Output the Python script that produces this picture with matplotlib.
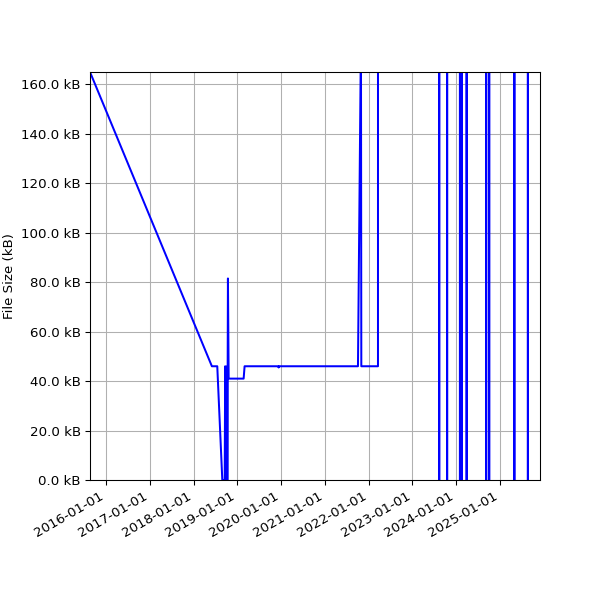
import matplotlib
matplotlib.use("Agg")
import matplotlib.pyplot as plt
import matplotlib.dates as mdates
from matplotlib.ticker import FuncFormatter
from datetime import datetime

# commit dates and file sizes (kB)
dates = [
    "2015-08-21", "2018-06-03", "2018-07-18", "2018-08-29", "2018-09-18",
    "2018-09-22", "2018-09-27", "2018-10-03", "2018-10-08", "2018-10-10",
    "2018-10-15", "2018-10-21", "2019-02-23", "2019-03-03", "2019-12-10",
    "2019-12-12", "2019-12-14", "2021-10-04", "2021-10-29", "2021-11-01",
    "2022-03-20", "2022-03-21",
    "2023-08-12", "2023-08-13", "2023-08-14",
    "2023-10-17", "2023-10-18", "2023-10-19",
    "2024-02-01", "2024-02-02", "2024-02-03",
    "2024-02-18", "2024-02-19", "2024-02-20",
    "2024-03-28", "2024-03-29", "2024-03-30",
    "2024-09-07", "2024-09-08", "2024-09-09",
    "2024-10-02", "2024-10-03", "2024-10-04",
    "2025-04-30", "2025-05-01", "2025-05-02",
    "2025-08-21", "2025-08-22", "2025-08-23",
    "2025-11-25",
]
sizes_kb = [
    165.0, 46.0, 46.0, 0.0, 0.0,
    46.0, 0.0, 0.0, 46.0, 0.0,
    81.5, 41.0, 41.0, 46.0, 46.0,
    45.5, 46.0, 46.0, 180.0, 46.0,
    46.0, 1200.0,
    1200.0, 0.0, 1200.0,
    1200.0, 0.0, 1200.0,
    1200.0, 0.0, 1200.0,
    1200.0, 0.0, 1200.0,
    1200.0, 0.0, 1200.0,
    1200.0, 0.0, 1200.0,
    1200.0, 0.0, 1200.0,
    1200.0, 0.0, 1200.0,
    1200.0, 0.0, 1200.0,
    1200.0,
]

x = [datetime.strptime(d, "%Y-%m-%d") for d in dates]
y = [s * 1000 for s in sizes_kb]

fig, ax = plt.subplots(figsize=(6.25, 6.25), dpi=96)
ax.plot(x, y, color="blue")

ax.set_ylabel("File Size (kB)")
ax.yaxis.set_major_formatter(FuncFormatter(lambda v, p: f"{v / 1000:.1f} kB"))
ax.set_ylim(0, 165000)
ax.set_xlim(datetime(2015, 8, 21), datetime(2025, 12, 1))
ax.xaxis.set_major_locator(mdates.YearLocator())
ax.xaxis.set_major_formatter(mdates.DateFormatter("%Y-%m-%d"))
ax.grid(True)
fig.autofmt_xdate()
fig.subplots_adjust(left=0.15, right=0.9, top=0.88, bottom=0.2)

fig.savefig("out.png", dpi=96)
